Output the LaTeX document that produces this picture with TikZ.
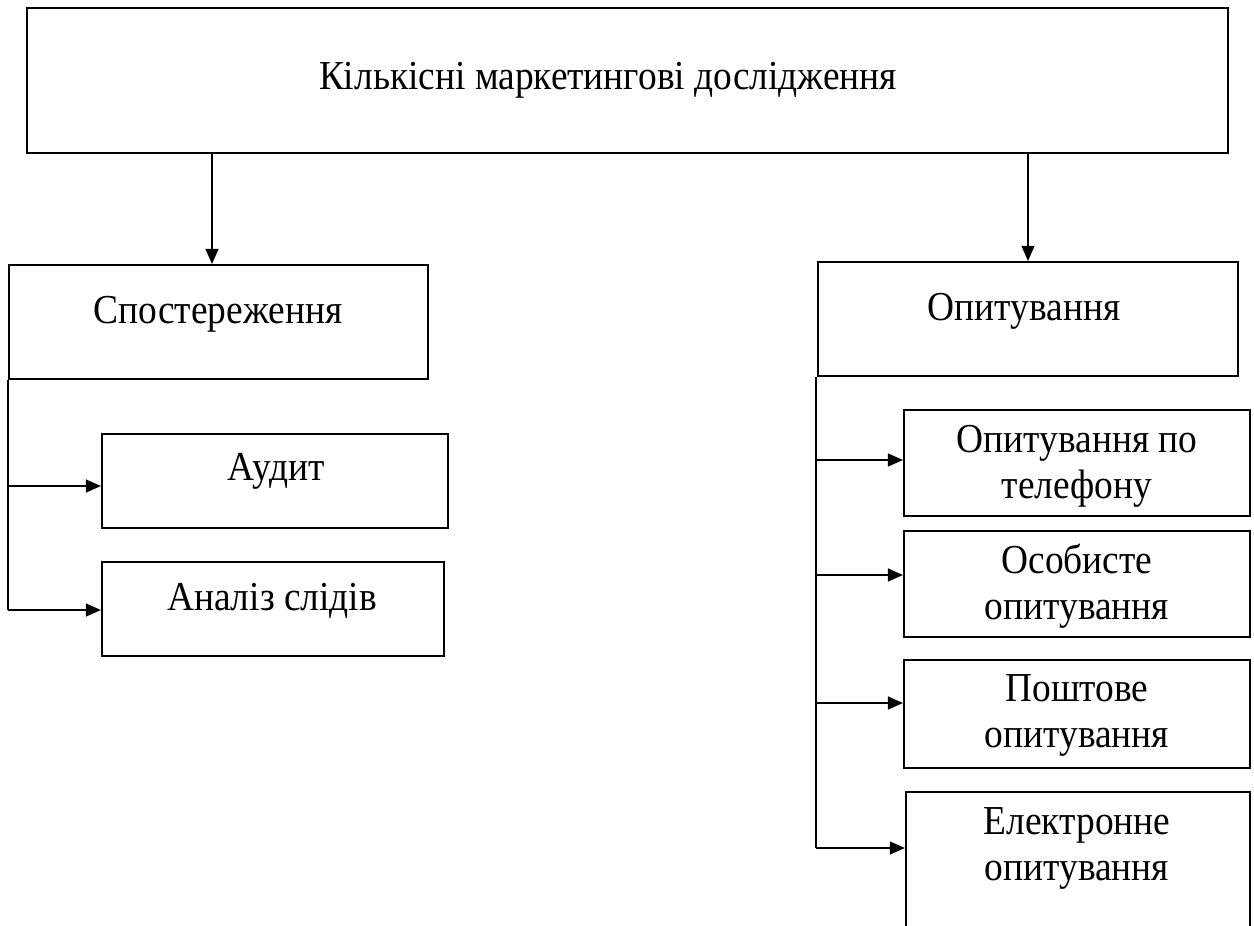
\documentclass[tikz,border=0pt]{standalone}
\usepackage{graphicx}
\usepackage{fontspec}
\setmainfont{Liberation Serif}
\usetikzlibrary{arrows.meta}
\newcommand{\vstr}[1]{\scalebox{1}[1.1]{#1}}
\begin{document}
\begin{tikzpicture}[x=0.5pt,y=-0.5pt,
  box/.style={draw,line width=1.1pt,inner sep=0pt,rectangle},
  lbl/.style={anchor=base,inner sep=0pt,align=center,font=\fontsize{18.7pt}{23pt}\selectfont},
  conn/.style={line width=0.6pt},
  arr/.style={line width=0.6pt,-{Triangle[length=7.5pt,width=6.5pt]}}]
\useasboundingbox (0,0) rectangle (1254,926);
\clip (0,0) rectangle (1254,926);
% boxes
\node[box,line width=1.4pt,minimum width=600.5pt,minimum height=72.5pt] (top) at (627.5,80.5) {};
\node[box,minimum width=209.5pt,minimum height=57pt] (sp) at (218.5,322) {};
\node[box,minimum width=210pt,minimum height=57pt] (op) at (1028,319) {};
\node[box,minimum width=173pt,minimum height=47pt] (aud) at (275,481) {};
\node[box,minimum width=171pt,minimum height=47pt] (an) at (273,609) {};
\node[box,minimum width=173pt,minimum height=53pt] (tel) at (1077,463) {};
\node[box,minimum width=173pt,minimum height=53pt] (os) at (1077,584) {};
\node[box,minimum width=173pt,minimum height=54pt] (po) at (1077,714) {};
\node[box,minimum width=172pt,minimum height=74pt] (el) at (1078,866) {};
% texts
\node[lbl] (topt) at (608,90) {\vstr{Кількісні маркетингові дослідження}};
\node[lbl] (spt) at (218,323) {\vstr{Спостереження}};
\node[lbl] (opt) at (1024,320) {\vstr{Опитування}};
\node[lbl] (audt) at (276,480) {\vstr{Аудит}};
\node[lbl] (ant) at (272,610) {\vstr{Аналіз слідів}};
\node[lbl] (telt) at (1077,498) {\vstr{Опитування по}\\\vstr{телефону}};
\node[lbl] (ost) at (1077,619) {\vstr{Особисте}\\\vstr{опитування}};
\node[lbl] (pot) at (1077,747) {\vstr{Поштове}\\\vstr{опитування}};
\node[lbl] (elt) at (1077,880) {\vstr{Електронне}\\\vstr{опитування}};
% top arrows
\coordinate (ax1) at (212,0);
\coordinate (ax2) at (1028,0);
\draw[arr] (top.south -| ax1) -- (sp.north -| ax1);
\draw[arr] (top.south -| ax2) -- (op.north -| ax2);
% left branches
\coordinate (ly1) at (0,486);
\coordinate (ly2) at (0,610);
\draw[conn] (sp.south west) -- (sp.south west |- ly2);
\draw[arr] (sp.south west |- ly1) -- (aud.west |- ly1);
\draw[arr] (sp.south west |- ly2) -- (an.west |- ly2);
% right branches
\coordinate (rx) at (816,0);
\coordinate (ry1) at (0,460);
\coordinate (ry2) at (0,575);
\coordinate (ry3) at (0,703);
\coordinate (ry4) at (0,848);
\draw[conn] (op.south -| rx) -- (rx |- ry4);
\draw[arr] (rx |- ry1) -- (tel.west |- ry1);
\draw[arr] (rx |- ry2) -- (os.west |- ry2);
\draw[arr] (rx |- ry3) -- (po.west |- ry3);
\draw[arr] (rx |- ry4) -- (el.west |- ry4);
\end{tikzpicture}
\end{document}
